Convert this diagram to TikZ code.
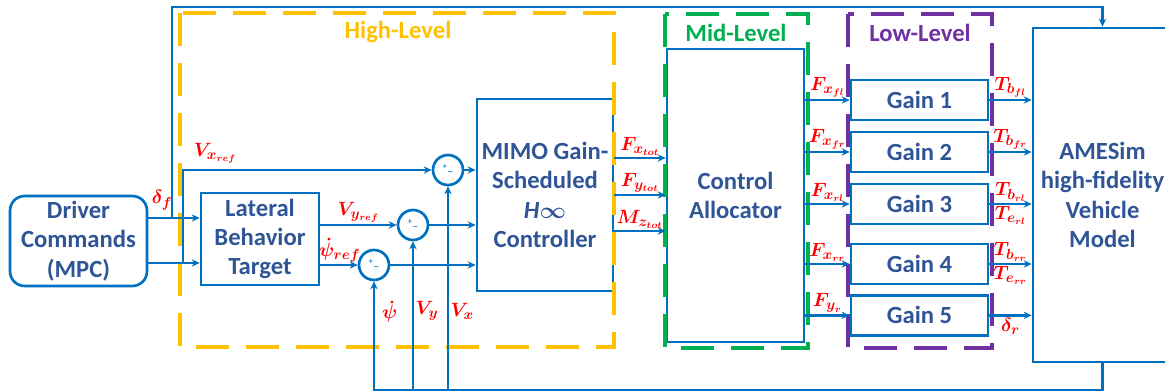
\documentclass[tikz,border=0pt]{standalone}
\usepackage{amsmath, amssymb}
\usepackage{fontspec}
\setmainfont{Carlito}
\usepackage{tikz}
\usetikzlibrary{positioning,arrows.meta}
\definecolor{lnblue}{RGB}{0,112,192}
\definecolor{txblue}{RGB}{47,85,151}
\definecolor{hiyel}{RGB}{255,192,0}
\definecolor{midgrn}{RGB}{0,176,80}
\definecolor{lowpur}{RGB}{112,48,160}
\newcommand{\bsig}[1]{$\boldsymbol{#1}$}
\newcommand{\sumsign}{\raisebox{1.5pt}{\fontsize{7}{7}\selectfont+}\raisebox{-3.5pt}{\fontsize{9}{9}\selectfont\textendash}}

\begin{document}
\begin{tikzpicture}[x=0.75pt, y=-0.75pt, ->, >={Stealth[length=6pt,width=5.5pt]}, auto, lnblue, line width=2pt,
	blk/.style={draw=lnblue, fill=white, text=txblue, font=\bfseries\fontsize{18.5}{22}\selectfont, align=center, inner sep=2pt},
	gainbox/.style={blk, minimum width=102.75pt, minimum height=30pt},
	sumj/.style={circle, draw=lnblue, fill=white, text=lnblue, minimum size=22.5pt, inner sep=0pt},
	sig/.style={text=red, font=\fontsize{15}{17}\selectfont, inner sep=1pt},
	lvl/.style={-, line width=3pt, dash pattern=on 25pt off 12.5pt},
	lvltxt/.style={font=\bfseries\fontsize{18.5}{22}\selectfont}]
			\useasboundingbox (0,0) rectangle (1165,392);

			\node[blk, rounded corners=11pt, minimum width=102.75pt, minimum height=67.5pt] (drv) at (78.5,241) {Driver\\Commands\\(MPC)};
			\node[blk, minimum width=88.5pt, minimum height=69pt] (lat) at (260,239) {Lateral\\Behavior\\Target};
			\node[blk, minimum width=102pt, minimum height=144pt] (mimo) at (545,195) {MIMO Gain-\\Scheduled\\\textit{H}$\boldsymbol{\infty}$\\Controller};
			\node[blk, minimum width=102.75pt, minimum height=219.75pt] (ca) at (735.5,195.5) {Control\\Allocator};

			\node[gainbox] (g1) at (919.5,100) {Gain 1};
			\node[gainbox] (g2) [below=7pt of g1] {Gain 2};
			\node[gainbox] (g3) [below=7pt of g2] {Gain 3};
			\node[gainbox] (g4) [below=13pt of g3] {Gain 4};
			\node[gainbox] (g5) [below=6.5pt of g4] {Gain 5};

			\node[blk, minimum width=104.25pt, minimum height=250.5pt] (ames) at (1102.5,195) {AMESim\\high-fidelity\\Vehicle\\Model};

			\node[sumj] (c1) at (448,170) {\sumsign};
			\node[sumj] (c2) at (413,225) {\sumsign};
			\node[sumj] (c3) at (374,265) {\sumsign};

			% level frames
			\draw[lvl, hiyel] (180,13) rectangle (614,347);
			\draw[lvl, midgrn] (665,14) rectangle (808,348);
			\draw[lvl, lowpur] (848,14) rectangle (992,348);
			\node[lvltxt, text=hiyel] (hl) at (398,32) {High-Level};
			\node[lvltxt, text=midgrn] (ml) at (736,33) {Mid-Level};
			\node[lvltxt, text=lowpur] (ll) at (920,33) {Low-Level};

			\coordinate (jd) at (172,218);
			\coordinate (jv) at (183,263);
			\coordinate (jtop) at (172,7);
			\coordinate (fb) at (374,390);

			\draw (drv.east |- jd) -- node[sig, pos=.27, yshift=4pt] {\bsig{\delta_f}} (lat.west |- jd);
			\draw (drv.east |- jv) -- (lat.west |- jv);
			\draw (jd) -- (jtop) -| (ames.north);
			\draw (jv) |- node[sig, pos=.565, yshift=3pt] {\bsig{V_{x_{ref}}}} (c1.west);

			\path
			(lat.east |- c2) edge node[sig] {\bsig{V_{y_{ref}}}} (c2.west)
			(lat.east |- c3) edge node[sig, pos=.52] {\bsig{\dot{\psi}_{ref}}} (c3.west)
			(c1.east) edge (c1 -| mimo.west)
			(c2.east) edge (c2 -| mimo.west)
			(c3.east) edge (c3 -| mimo.west);

			% feedback from the vehicle
			\draw (ames.south) |- (fb) -- node[sig, swap, pos=.72, xshift=4pt] {\bsig{\dot{\psi}}} (c3.south);
			\draw (c2.south |- fb) -- node[sig, swap, pos=.53] {\bsig{V_y}} (c2.south);
			\draw (c1.south |- fb) -- node[sig, swap, pos=.385] {\bsig{V_x}} (c1.south);

			\path
			([yshift=27.75pt]mimo.east) edge node[sig] {\bsig{F_{x_{tot}}}} ([yshift=27.75pt]mimo.east -| ca.west)
			(mimo.east) edge node[sig] {\bsig{F_{y_{tot}}}} (mimo.east -| ca.west)
			([yshift=-27pt]mimo.east) edge node[sig] {\bsig{M_{z_{tot}}}} ([yshift=-27pt]mimo.east -| ca.west);

			\path
			(g1 -| ca.east) edge node[sig] {\bsig{F_{x_{fl}}}} (g1.west)
			(g2 -| ca.east) edge node[sig] {\bsig{F_{x_{fr}}}} (g2.west)
			(g3 -| ca.east) edge node[sig] {\bsig{F_{x_{rl}}}} (g3.west)
			(g4 -| ca.east) edge node[sig] {\bsig{F_{x_{rr}}}} (g4.west)
			(g5 -| ca.east) edge node[sig] {\bsig{F_{y_r}}} (g5.west);

			\path
			(g1.east) edge node[sig] {\bsig{T_{b_{fl}}}} (g1 -| ames.west)
			(g2.east) edge node[sig] {\bsig{T_{b_{fr}}}} (g2 -| ames.west)
			(g3.east) edge node[sig] {\bsig{T_{b_{rl}}}} node[sig, swap] {\bsig{T_{e_{rl}}}} (g3 -| ames.west)
			(g4.east) edge node[sig] {\bsig{T_{b_{rr}}}} node[sig, swap] {\bsig{T_{e_{rr}}}} (g4 -| ames.west)
			(g5.east) edge node[sig, swap] {\bsig{\delta_r}} (g5 -| ames.west);

		\end{tikzpicture}
\end{document}
